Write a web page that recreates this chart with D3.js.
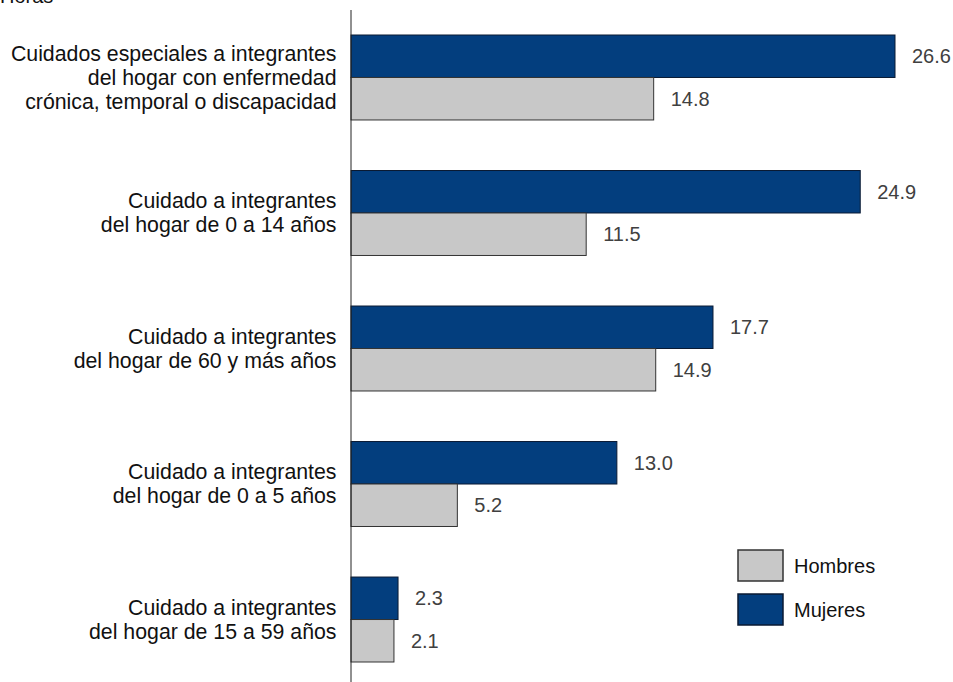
<!DOCTYPE html>
<html>
<head>
<meta charset="utf-8">
<script src="https://cdn.jsdelivr.net/npm/d3@7"></script>
<style>
  html, body { margin: 0; padding: 0; background: #fff; }
  svg { display: block; font-family: "Liberation Sans", Arial, sans-serif; }
</style>
</head>
<body>
<svg id="chart" width="953" height="682"></svg>
<script>
// Activities of unpaid care, split by sex (hours)
const categories = [
  ["Cuidados especiales a integrantes", "del hogar con enfermedad", "crónica, temporal o discapacidad"],
  ["Cuidado a integrantes", "del hogar de 0 a 14 años"],
  ["Cuidado a integrantes", "del hogar de 60 y más años"],
  ["Cuidado a integrantes", "del hogar de 0 a 5 años"],
  ["Cuidado a integrantes", "del hogar de 15 a 59 años"]
];
const mujeres = [26.6, 24.9, 17.7, 13.0, 2.3];
const hombres = [14.8, 11.5, 14.9, 5.2, 2.1];
const seriesNames = ["Mujeres", "Hombres"];
const legendOrder = ["Hombres", "Mujeres"];

const fills = { Mujeres: "#033e7e", Hombres: "#c8c8c8" };
const strokes = { Mujeres: "#0a1a33", Hombres: "#333333" };

const svg = d3.select("#chart");
const x0 = 351;

const x = d3.scaleLinear().domain([0, 26.6]).range([x0, 895]);
const y = d3.scaleBand()
  .domain(d3.range(categories.length))
  .range([7.9, 689.1])
  .paddingInner(0.373)
  .paddingOuter(0.2);
const ySub = d3.scaleBand().domain(seriesNames).range([0, y.bandwidth()]);

// Title fragment clipped at the top edge
svg.append("text")
  .attr("x", 0).attr("y", 3)
  .attr("font-size", 20).attr("fill", "#111")
  .text("Horas");

const rows = categories.map((c, i) => ({
  i, lines: c,
  vals: [{ s: "Mujeres", v: mujeres[i] }, { s: "Hombres", v: hombres[i] }]
}));

const g = svg.selectAll("g.row").data(rows).join("g")
  .attr("class", "row")
  .attr("transform", d => `translate(0,${y(d.i)})`);

g.selectAll("rect").data(d => d.vals).join("rect")
  .attr("x", x(0))
  .attr("y", d => ySub(d.s))
  .attr("width", d => x(d.v) - x(0))
  .attr("height", ySub.bandwidth())
  .attr("fill", d => fills[d.s])
  .attr("stroke", d => strokes[d.s])
  .attr("stroke-width", 1);

g.selectAll("text.val").data(d => d.vals).join("text")
  .attr("class", "val")
  .attr("x", d => x(d.v) + 17)
  .attr("y", d => ySub(d.s) + ySub.bandwidth() / 2)
  .attr("dy", "0.35em")
  .attr("font-size", 20)
  .attr("fill", "#404040")
  .text(d => d3.format(".1f")(d.v));

// Category labels, right aligned against the axis
g.each(function(d) {
  const n = d.lines.length;
  const lh = 24;
  const t = d3.select(this).append("text")
    .attr("text-anchor", "end")
    .attr("font-size", 21.3)
    .attr("fill", "#111");
  d.lines.forEach((line, k) => {
    t.append("tspan")
      .attr("x", 336.5)
      .attr("y", y.bandwidth() / 2 + (k - (n - 1) / 2) * lh)
      .attr("dy", "0.35em")
      .text(line);
  });
});

// Vertical category axis
svg.append("line")
  .attr("x1", x0).attr("x2", x0)
  .attr("y1", 10).attr("y2", 682)
  .attr("stroke", "#222").attr("stroke-width", 1);

// Legend
const legend = svg.append("g").selectAll("g").data(legendOrder).join("g")
  .attr("transform", (d, i) => `translate(738,${550 + i * 44})`);
legend.append("rect")
  .attr("width", 45).attr("height", 31)
  .attr("fill", d => fills[d]).attr("stroke", d => strokes[d]).attr("stroke-width", 1.5);
legend.append("text")
  .attr("x", 56).attr("y", 15.5).attr("dy", "0.35em")
  .attr("font-size", 20).attr("fill", "#111")
  .text(d => d);
</script>
</body>
</html>
